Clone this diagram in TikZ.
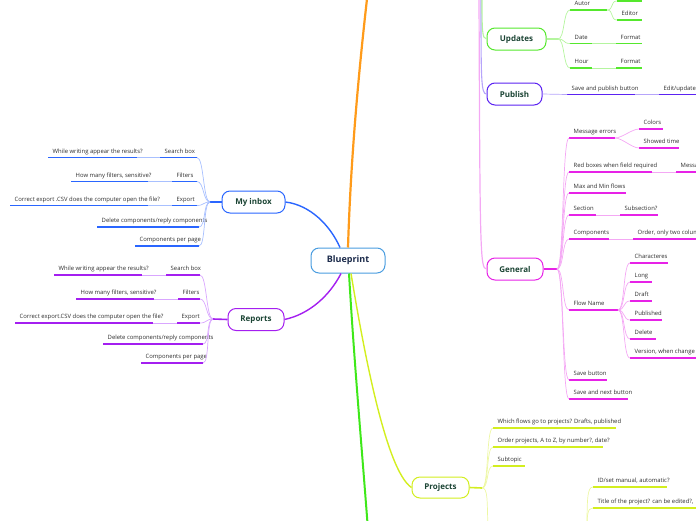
\documentclass[tikz,border=0pt]{standalone}
\usepackage{fontspec}
\setmainfont{Open Sans}
\usetikzlibrary{calc}
\definecolor{cbp}{HTML}{4A9DE0}
\definecolor{cbptxt}{HTML}{1B2A4A}
\definecolor{cB}{HTML}{2A66FF}
\definecolor{cBl}{HTML}{A8C0FF}
\definecolor{cP}{HTML}{A41FF0}
\definecolor{cPl}{HTML}{D9A6FF}
\definecolor{cG}{HTML}{55E82D}
\definecolor{cGl}{HTML}{B4F59E}
\definecolor{cV}{HTML}{5B22F2}
\definecolor{cVl}{HTML}{B6A4FA}
\definecolor{cM}{HTML}{E722E7}
\definecolor{cMl}{HTML}{F4A8F4}
\definecolor{cY}{HTML}{D3EE1F}
\definecolor{cYl}{HTML}{EDF7A3}
\definecolor{cO}{HTML}{FF9B1A}
\definecolor{cGr}{HTML}{3FE81A}
\definecolor{ttop}{HTML}{1C4535}
\definecolor{txt}{HTML}{2E2E2E}
\tikzset{
 topic/.style={draw, rounded corners=8pt, line width=1pt, fill=white,
   font=\bfseries\fontsize{8}{9}\selectfont, text=ttop, inner sep=0pt},
 itemtext/.style={anchor=base west, inner sep=0pt, font=\fontsize{5.9}{6.5}\selectfont, text=txt},
 con/.style={line width=0.7pt},
 stub/.style={line width=1.6pt},
 uline/.style={line width=1.7pt},
}
% name, colour, x1, x2, y, text
\newcommand\mmitem[6]{%
  \coordinate (#1-l) at (#3,#5);
  \coordinate (#1-r) at (#4,#5);
  \draw[uline,#2] (#1-l) -- (#1-r);
  \node[itemtext] (#1) at ($(#1-l)+(4.5,-4.5)$) {#6};
}
\newcommand\fanL[3]{\draw[con,#3] (#1) .. controls ($(#1)+(-7,0)$) and ($(#2)+(7,0)$) .. (#2);}
\newcommand\fanR[3]{\draw[con,#3] (#1) .. controls ($(#1)+(7,0)$) and ($(#2)+(-7,0)$) .. (#2);}
\begin{document}
\begin{tikzpicture}[x=1pt,y=-1pt]
\useasboundingbox (0,0) rectangle (696,520);
\clip (0,0) rectangle (696,520);

% main topics
\node[topic, draw=cbp, text=cbptxt, font=\bfseries\fontsize{9}{10}\selectfont,
  minimum width=74pt, minimum height=25pt] (bp) at (348,260.5) {Blueprint};
\node[topic, draw=cB, minimum width=63pt, minimum height=22pt] (inb) at (253.5,202) {My inbox};
\node[topic, draw=cP, minimum width=56pt, minimum height=22pt] (rep) at (256,319.5) {Reports};
\node[topic, draw=cG, minimum width=59pt, minimum height=22pt] (upd) at (516.5,39) {Updates};
\node[topic, draw=cV, minimum width=55pt, minimum height=22pt] (pub) at (514.5,94) {Publish};
\node[topic, draw=cM, minimum width=56pt, minimum height=22pt] (gen) at (515,269) {General};
\node[topic, draw=cY, minimum width=57pt, minimum height=21pt] (prj) at (440.5,487.5) {Projects};

% off-canvas ends
\coordinate (otop) at (368,-10);
\coordinate (obot) at (368,530);
\coordinate (tpk) at (479,-5);
\coordinate (tvi) at (481,-5);
\coordinate (tgr) at (482,-5);

% main branches
\draw[line width=2.2pt,cO] (bp.north) .. controls (351,150) and (360,60) .. (otop);
\draw[line width=2pt,cGr] ($(bp.south)+(1,0)$) .. controls (354,360) and (362,450) .. (obot);
\draw[line width=1.4pt,cY] ($(bp.south)+(3,0)$) .. controls (362,340) and (385,470) .. (prj.west);
\draw[line width=1.4pt,cB] ($(bp.north)+(-8,0)$) .. controls (330,225) and (310,205) .. (inb.east);
\draw[line width=1.4pt,cP] ($(bp.south)+(-7,0)$) .. controls (330,295) and (310,314) .. (rep.east);
\draw[line width=1.2pt,cMl] (tpk) .. controls (480,250) and (480,269) .. (gen.west);
\draw[line width=1.1pt,cVl] (tvi) .. controls (481,80) and (481,94) .. (pub.west);
\draw[line width=1.1pt,cGl] (tgr) .. controls (482,30) and (482,39) .. (upd.west);

% ---- My inbox
\coordinate (inbj) at (210,202);
\draw[stub,cB] (inb.west) -- (inbj);
\mmitem{ib1}{cB}{160}{197}{157.5}{Search box}
\mmitem{ib1a}{cB}{48}{137}{157.5}{While writing appear the results?}
\mmitem{ib2}{cB}{172}{197}{181.5}{Filters}
\mmitem{ib2a}{cB}{71}{148}{181.5}{How many filters, sensitive?}
\mmitem{ib3}{cB}{172}{197}{205.5}{Export}
\mmitem{ib3a}{cB}{10}{148}{205.5}{Correct export .CSV does the computer open the file?}
\mmitem{ib4}{cB}{97}{199}{227}{Delete components/reply components}
\mmitem{ib5}{cB}{135}{199}{246}{Components per page}
\fanL{inbj}{ib1-r}{cBl}
\fanL{inbj}{ib2-r}{cBl}
\fanL{inbj}{ib3-r}{cBl}
\fanL{inbj}{ib4-r}{cBl}
\fanL{inbj}{ib5-r}{cBl}
\draw[con,cBl] (ib1-l) -- (ib1a-r);
\draw[con,cBl] (ib2-l) -- (ib2a-r);
\draw[con,cBl] (ib3-l) -- (ib3a-r);

% ---- Reports
\coordinate (repj) at (213,319);
\draw[stub,cP] (rep.west) -- (repj);
\mmitem{rp1}{cP}{166}{200}{275}{Search box}
\mmitem{rp1a}{cP}{54}{142}{275}{While writing appear the results?}
\mmitem{rp2}{cP}{178}{200}{299}{Filters}
\mmitem{rp2a}{cP}{76}{154}{299}{How many filters, sensitive?}
\mmitem{rp3}{cP}{177}{200}{323}{Export}
\mmitem{rp3a}{cP}{15}{153}{323}{Correct export.CSV does the computer open the file?}
\mmitem{rp4}{cP}{103}{203}{344}{Delete components/reply components}
\mmitem{rp5}{cP}{141}{203}{363}{Components per page}
\fanL{repj}{rp1-r}{cPl}
\fanL{repj}{rp2-r}{cPl}
\fanL{repj}{rp3-r}{cPl}
\fanL{repj}{rp4-r}{cPl}
\fanL{repj}{rp5-r}{cPl}
\draw[con,cPl] (rp1-l) -- (rp1a-r);
\draw[con,cPl] (rp2-l) -- (rp2a-r);
\draw[con,cPl] (rp3-l) -- (rp3a-r);

% ---- Updates
\coordinate (updj) at (558,39);
\draw[stub,cGl] (upd.east) -- (updj);
\mmitem{up1}{cG}{570}{607}{10}{Autor}
\coordinate (up0-l) at (617,1);
\coordinate (up0-r) at (642,1);
\draw[uline,cG] (up0-l) -- (up0-r);
\mmitem{up1b}{cG}{617}{642}{20}{Editor}
\mmitem{up2}{cG}{570}{592}{43.5}{Date}
\mmitem{up2a}{cG}{616}{642}{43.5}{Format}
\mmitem{up3}{cG}{570}{592}{68}{Hour}
\mmitem{up3a}{cG}{616}{642}{68}{Format}
\fanR{updj}{up1-l}{cGl}
\fanR{updj}{up2-l}{cGl}
\fanR{updj}{up3-l}{cGl}
\fanR{up1-r}{up0-l}{cGl}
\fanR{up1-r}{up1b-l}{cGl}
\draw[con,cGl] (up2-r) -- (up2a-l);
\draw[con,cGl] (up3-r) -- (up3a-l);

% ---- Publish
\mmitem{pb1}{cV}{567}{635}{94.5}{Save and publish button}
\mmitem{pb1a}{cV}{659}{700}{94.5}{Edit/update.}
\draw[con,cVl] (pub.east) -- (pb1-l);
\draw[con,cVl] (pb1-r) -- (pb1a-l);

% ---- General
\coordinate (genj) at (557,269);
\draw[stub,cM] (gen.east) -- (genj);
\mmitem{gn1}{cM}{569}{615}{138}{Message errors}
\mmitem{gn1a}{cM}{639}{663}{129}{Colors}
\mmitem{gn1b}{cM}{639}{679}{148}{Showed time}
\mmitem{gn2}{cM}{569}{652}{172}{Red boxes when field required}
\mmitem{gn2a}{cM}{676}{700}{172}{Messa}
\mmitem{gn3}{cM}{569}{626}{193}{Max and Min flows}
\mmitem{gn4}{cM}{569}{596}{215}{Section}
\mmitem{gn4a}{cM}{620}{658}{215}{Subsection?}
\mmitem{gn5}{cM}{569}{609}{239}{Components}
\mmitem{gn5a}{cM}{633}{700}{239}{Order, only two colum}
\mmitem{gn6}{cM}{569}{618}{310}{Flow Name}
\mmitem{gn6a}{cM}{630}{668}{263}{Characteres}
\mmitem{gn6b}{cM}{630}{652}{282}{Long}
\mmitem{gn6c}{cM}{630}{652}{301}{Draft}
\mmitem{gn6d}{cM}{630}{662}{320}{Published}
\mmitem{gn6e}{cM}{630}{656}{339}{Delete}
\mmitem{gn6f}{cM}{630}{700}{358}{Version, when change}
\mmitem{gn7}{cM}{569}{607}{380}{Save button}
\mmitem{gn8}{cM}{569}{628}{399}{Save and next button}
\fanR{genj}{gn1-l}{cMl}
\fanR{genj}{gn2-l}{cMl}
\fanR{genj}{gn3-l}{cMl}
\fanR{genj}{gn4-l}{cMl}
\fanR{genj}{gn5-l}{cMl}
\fanR{genj}{gn6-l}{cMl}
\fanR{genj}{gn7-l}{cMl}
\fanR{genj}{gn8-l}{cMl}
\fanR{gn1-r}{gn1a-l}{cMl}
\fanR{gn1-r}{gn1b-l}{cMl}
\draw[con,cMl] (gn2-r) -- (gn2a-l);
\draw[con,cMl] (gn4-r) -- (gn4a-l);
\draw[con,cMl] (gn5-r) -- (gn5a-l);
\fanR{gn6-r}{gn6a-l}{cMl}
\fanR{gn6-r}{gn6b-l}{cMl}
\fanR{gn6-r}{gn6c-l}{cMl}
\fanR{gn6-r}{gn6d-l}{cMl}
\fanR{gn6-r}{gn6e-l}{cMl}
\fanR{gn6-r}{gn6f-l}{cMl}

% ---- Projects
\coordinate (prjj) at (482,488);
\draw[stub,cY] (prj.east) -- (prjj);
\mmitem{pj1}{cY}{493}{616}{428}{Which flows go to projects? Drafts, published}
\mmitem{pj2}{cY}{493}{603}{447}{Order projects, A to Z, by number?, date?}
\mmitem{pj3}{cY}{493}{525}{466}{Subtopic}
\mmitem{sb1}{cY}{593}{667}{487}{ID/set manual, automatic?}
\mmitem{sb2}{cY}{593}{700}{508}{Title of the project? can be edited?,}
\coordinate (pjdown) at (488,530);
\coordinate (pjsub) at (587,535);
\fanR{prjj}{pj1-l}{cYl}
\fanR{prjj}{pj2-l}{cYl}
\fanR{prjj}{pj3-l}{cYl}
\draw[con,cYl] (prjj) .. controls (488,488) and (487,500) .. (pjdown);
\draw[con,cYl] (pjsub) .. controls (587,500) and (587,487) .. (sb1-l);
\draw[con,cYl] (pjsub) .. controls (587,515) and (587,508) .. (sb2-l);
\end{tikzpicture}
\end{document}
